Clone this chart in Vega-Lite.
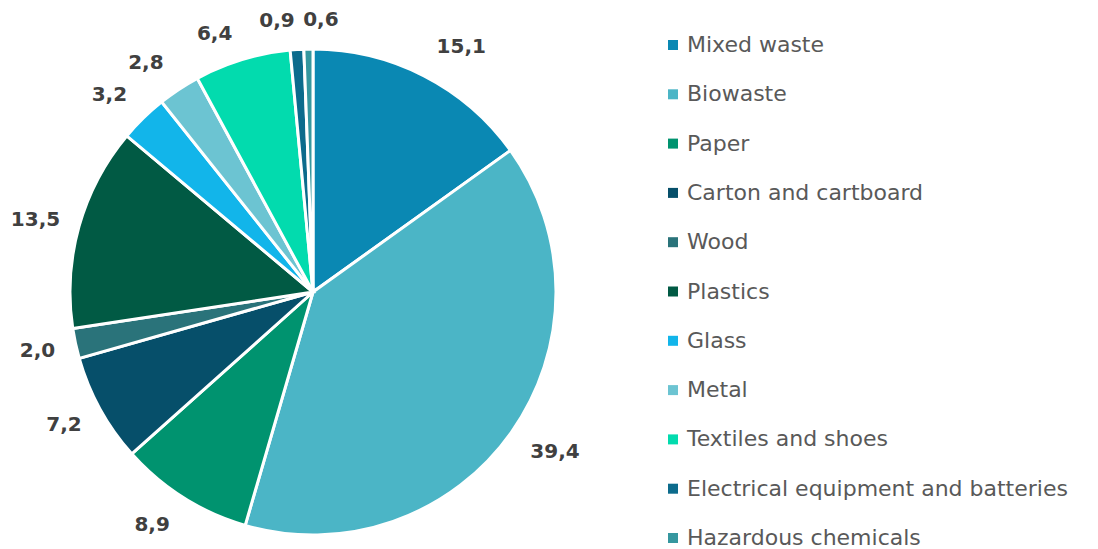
{
  "$schema": "https://vega.github.io/schema/vega-lite/v6.json",
  "width": 626,
  "height": 514,
  "autosize": {"type": "none"},
  "padding": {"left": 0, "top": 35, "right": 472, "bottom": 0},
  "background": "white",
  "config": {"view": {"stroke": null}, "text": {"font": "DejaVu Sans", "fontSize": 20, "fontWeight": "bold", "fill": "#404040", "align": "center", "baseline": "middle"}},
  "data": {
    "values": [
      {"idx": 1, "category": "Mixed waste", "value": 15.1, "label": "15,1"},
      {"idx": 2, "category": "Biowaste", "value": 39.4, "label": "39,4"},
      {"idx": 3, "category": "Paper", "value": 8.9, "label": "8,9"},
      {"idx": 4, "category": "Carton and cartboard", "value": 7.2, "label": "7,2"},
      {"idx": 5, "category": "Wood", "value": 2.0, "label": "2,0"},
      {"idx": 6, "category": "Plastics", "value": 13.5, "label": "13,5"},
      {"idx": 7, "category": "Glass", "value": 3.2, "label": "3,2"},
      {"idx": 8, "category": "Metal", "value": 2.8, "label": "2,8"},
      {"idx": 9, "category": "Textiles and shoes", "value": 6.4, "label": "6,4"},
      {"idx": 10, "category": "Electrical equipment and batteries", "value": 0.9, "label": "0,9"},
      {"idx": 11, "category": "Hazardous chemicals", "value": 0.6, "label": "0,6"}
    ]
  },
  "encoding": {
    "theta": {"field": "value", "type": "quantitative", "stack": true},
    "order": {"field": "idx", "type": "quantitative"}
  },
  "layer": [
    {
      "mark": {"type": "arc", "outerRadius": 243, "stroke": "white", "strokeWidth": 3},
      "encoding": {
        "color": {
          "field": "category",
          "type": "nominal",
          "sort": null,
          "scale": {
            "domain": ["Mixed waste", "Biowaste", "Paper", "Carton and cartboard", "Wood", "Plastics", "Glass", "Metal", "Textiles and shoes", "Electrical equipment and batteries", "Hazardous chemicals"],
            "range": ["#0A88B3", "#4BB5C6", "#00936F", "#064F6A", "#2A737A", "#015A44", "#12B5EA", "#6CC4D2", "#02DBAE", "#0C6B8C", "#35979F"]
          },
          "legend": {
            "title": null,
            "orient": "none",
            "legendX": 662,
            "legendY": -1,
            "symbolType": "square",
            "symbolSize": 100,
            "symbolStrokeWidth": 0,
            "labelFont": "DejaVu Sans",
            "labelFontSize": 22,
            "labelColor": "#595959",
            "labelOffset": 3,
            "labelLimit": 600,
            "rowPadding": 27.3
          }
        }
      }
    },
    {"mark": {"type": "text", "radius": 283, "dx": 19, "dy": 7}, "encoding": {"text": {"condition": {"test": "datum.idx == 1", "field": "label"}, "value": ""}}},
    {"mark": {"type": "text", "radius": 283, "dx": 11, "dy": -3}, "encoding": {"text": {"condition": {"test": "datum.idx == 2", "field": "label"}, "value": ""}}},
    {"mark": {"type": "text", "radius": 283, "dx": -10, "dy": -6}, "encoding": {"text": {"condition": {"test": "datum.idx == 3", "field": "label"}, "value": ""}}},
    {"mark": {"type": "text", "radius": 283, "dx": -1, "dy": -3}, "encoding": {"text": {"condition": {"test": "datum.idx == 4", "field": "label"}, "value": ""}}},
    {"mark": {"type": "text", "radius": 283, "dx": 1, "dy": -1}, "encoding": {"text": {"condition": {"test": "datum.idx == 5", "field": "label"}, "value": ""}}},
    {"mark": {"type": "text", "radius": 283, "dx": -5, "dy": 4}, "encoding": {"text": {"condition": {"test": "datum.idx == 6", "field": "label"}, "value": ""}}},
    {"mark": {"type": "text", "radius": 283, "dx": -6, "dy": 6}, "encoding": {"text": {"condition": {"test": "datum.idx == 7", "field": "label"}, "value": ""}}},
    {"mark": {"type": "text", "radius": 283, "dx": -11, "dy": 7}, "encoding": {"text": {"condition": {"test": "datum.idx == 8", "field": "label"}, "value": ""}}},
    {"mark": {"type": "text", "radius": 283, "dx": -16, "dy": 13}, "encoding": {"text": {"condition": {"test": "datum.idx == 9", "field": "label"}, "value": ""}}},
    {"mark": {"type": "text", "radius": 272, "dx": -18, "dy": 0}, "encoding": {"text": {"condition": {"test": "datum.idx == 10", "field": "label"}, "value": ""}}},
    {"mark": {"type": "text", "radius": 272, "dx": 13, "dy": 0}, "encoding": {"text": {"condition": {"test": "datum.idx == 11", "field": "label"}, "value": ""}}}
  ]
}
